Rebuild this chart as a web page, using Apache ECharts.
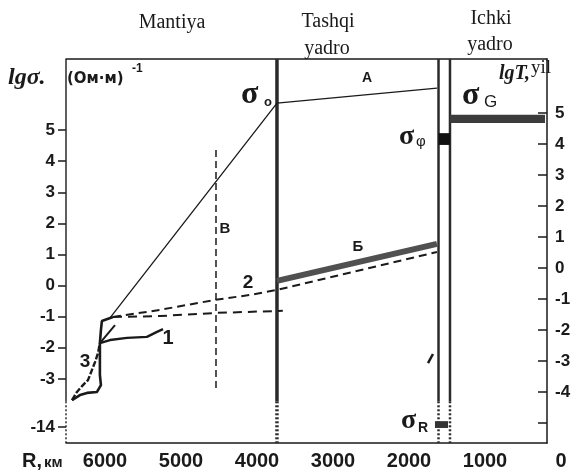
<!DOCTYPE html>
<html>
<head>
<meta charset="utf-8">
<script src="https://cdn.jsdelivr.net/npm/echarts@6.0.0/dist/echarts.min.js"></script>
<style>
  html, body { margin: 0; padding: 0; background: #fff; }
  #chart { width: 576px; height: 471px; }
</style>
</head>
<body>
<div id="chart"></div>
<script>
// bottom axis, radius in km
const radiusTicks = [0, 1000, 2000, 3000, 4000, 5000, 6000];
// left axis lg(sigma); the "-14" tick sits on the broken part of the axis
const sigmaTickPos = [-4.55, -3, -2, -1, 0, 1, 2, 3, 4, 5];
const sigmaTickText = ['-14', '-3', '-2', '-1', '0', '1', '2', '3', '4', '5'];
// right axis lg(T)
const timeTicks = [-5, -4, -3, -2, -1, 0, 1, 2, 3, 4, 5];
const timeLabels = [-4, -3, -2, -1, 0, 1, 2, 3, 4, 5];

// curves as [R km, lg sigma]
const lineSigma0A = [[5905, -1.04], [3649, 5.87], [1487, 6.35]];
const lineB = [[3649, 0.15], [1487, 1.34]];
const dashed2 = [[5865, -1.01], [5230, -0.78], [4487, -0.46], [4014, -0.30], [3649, -0.14], [1487, 1.08]];
const dashedLow = [[5865, -1.01], [5230, -0.98], [4487, -0.88], [3570, -0.81]];
const curve1 = [[6042, -1.85], [5905, -1.75], [5676, -1.68], [5406, -1.65], [5270, -1.49], [5189, -1.40]];
const branch1 = [[6042, -1.85], [5838, -1.27]];
const contour = [[5865, -1.01], [6015, -1.14], [6028, -1.43], [6042, -1.85], [6042, -2.39], [6042, -2.87],
  [6028, -3.20], [6001, -3.26], [6081, -3.42], [6216, -3.45], [6311, -3.52], [6419, -3.68]];
const curve3 = [[6419, -3.68], [6352, -3.42], [6271, -3.20], [6203, -3.04], [6149, -2.71], [6108, -2.46], [6068, -2.17], [6042, -1.85]];
const strayMark = [[1608, -2.49], [1541, -2.2]];

// vertical boundaries (R km) and where they turn dotted
const boundaryR = [6500, 3649, 1466, 1311];
const breakAt = -3.72;
const lineVB = [[4473, 4.36], [4473, -3.29]];

// boxes [R from, R to, lgT from, lgT to]
const boxSigmaG = [1311, 27, 4.68, 4.94];
const boxSigmaPhi = [1466, 1311, 3.97, 4.35];
const boxSigmaR = [1514, 1338, -4.94, -5.16];

const sigmaMin = -5.061, sigmaMax = 7.286;
const timeMin = -5.645, timeMax = 6.742;

const ink = '#1a1a1a';
const sans = 'Liberation Sans';
const serif = 'Liberation Serif';

const chart = echarts.init(document.getElementById('chart'));

function line(data, width, type, color, z) {
  return {
    type: 'line', data: data, xAxisIndex: 0, yAxisIndex: 0,
    symbol: 'none', clip: false, silent: true, z: z || 3,
    lineStyle: { color: color || ink, width: width, type: type || 'solid', cap: 'butt' }
  };
}

const series = [];
boundaryR.forEach(function (r, i) {
  const w = i === 0 ? 1.5 : (i === 1 ? 3.5 : 2.5);
  series.push(line([[r, sigmaMax], [r, breakAt]], w, 'solid', '#2a2a2a', 2));
  series.push(line([[r, breakAt], [r, sigmaMin]], w, [2, 2], '#2a2a2a', 2));
});
series.push(line(lineVB, 1.5, [7, 4]));
series.push(line(lineSigma0A, 1.3));
series.push(line(lineB, 6, 'solid', '#505050'));
series.push(line(dashed2, 2, [8, 5]));
series.push(line(dashedLow, 2, [9, 6]));
series.push(line(curve1, 2.4));
series.push(line(branch1, 2));
series.push(line(contour, 2.6));
series.push(line(curve3, 2.4, [6, 2]));
series.push(line(strayMark, 2.5));

function renderBox(params, api) {
  const p0 = api.coord([api.value(0), api.value(2)]);
  const p1 = api.coord([api.value(1), api.value(3)]);
  return {
    type: 'rect',
    shape: {
      x: Math.min(p0[0], p1[0]), y: Math.min(p0[1], p1[1]),
      width: Math.abs(p1[0] - p0[0]), height: Math.abs(p1[1] - p0[1])
    },
    style: { fill: api.visual('color') }
  };
}
series.push({
  type: 'custom', xAxisIndex: 0, yAxisIndex: 1, renderItem: renderBox, silent: true, z: 4,
  encode: { x: [0, 1], y: [2, 3] },
  data: [
    { value: boxSigmaG, itemStyle: { color: '#3c3c3c' } },
    { value: boxSigmaPhi, itemStyle: { color: '#111' } },
    { value: boxSigmaR, itemStyle: { color: '#333' } }
  ]
});

function txt(x, y, text, font, align) {
  return {
    type: 'text', silent: true, z: 10,
    style: { text: text, x: x, y: y, font: font, fill: ink,
      align: align || 'left', textAlign: align || 'left',
      verticalAlign: 'middle', textVerticalAlign: 'middle' }
  };
}

const graphic = [
  txt(172, 23, 'Mantiya', '20px ' + serif, 'center'),
  txt(328, 22, 'Tashqi', '20px ' + serif, 'center'),
  txt(327, 49, 'yadro', '20px ' + serif, 'center'),
  txt(491, 19, 'Ichki', '20px ' + serif, 'center'),
  txt(490, 45, 'yadro', '20px ' + serif, 'center'),
  txt(8, 78, 'lgσ.', 'italic bold 24px ' + serif),
  txt(67, 79, '(Ом·м)', 'bold 15px DejaVu Sans'),
  txt(132, 69, '-1', 'bold 12px ' + sans),
  txt(241, 95, 'σ', 'bold 32px ' + serif),
  txt(264, 102, 'o', 'bold 13px ' + sans),
  txt(367, 78, 'A', 'bold 14px ' + sans, 'center'),
  txt(462, 96, 'σ', 'bold 32px ' + serif),
  txt(484, 102, 'G', '17px ' + sans),
  txt(499, 74, 'lgT,', 'italic bold 20px ' + serif),
  txt(531, 68, 'yil', '19px ' + serif),
  txt(399, 137, 'σ', 'bold 28px ' + serif),
  txt(416, 142, 'φ', '15px ' + sans),
  txt(401, 421, 'σ', 'bold 28px ' + serif),
  txt(418, 428, 'R', 'bold 14px ' + sans),
  txt(358, 247, 'Б', 'bold 15px ' + sans, 'center'),
  txt(225, 229, 'B', 'bold 15px ' + sans, 'center'),
  txt(248, 283, '2', 'bold 19px ' + sans, 'center'),
  txt(168, 338, '1', 'bold 20px ' + sans, 'center'),
  txt(85, 362, '3', 'bold 19px ' + sans, 'center'),
  txt(22, 461, 'R,', 'bold 20px ' + sans),
  txt(44, 463, 'км', 'bold 15px ' + sans)
];

function sigmaLabel(v) {
  for (let i = 0; i < sigmaTickPos.length; i++) {
    if (Math.abs(sigmaTickPos[i] - v) < 1e-6) return sigmaTickText[i];
  }
  return '';
}

const option = {
  backgroundColor: '#fff',
  animation: false,
  grid: [
    { left: 66, right: 29, top: 59, bottom: 28 },
    { left: 105, right: 15, top: 59, bottom: 28 }
  ],
  xAxis: [
    {
      gridIndex: 0, type: 'value', min: 0, max: 6500, inverse: true, position: 'bottom',
      axisLine: { show: true, onZero: false, lineStyle: { color: ink, width: 1.5 } },
      axisTick: { show: false }, axisLabel: { show: false }, splitLine: { show: false }
    },
    {
      gridIndex: 0, type: 'value', min: 0, max: 6500, inverse: true, position: 'top',
      axisLine: { show: true, onZero: false, lineStyle: { color: ink, width: 1.5 } },
      axisTick: { show: false }, axisLabel: { show: false }, splitLine: { show: false }
    },
    {
      gridIndex: 1, type: 'value', min: 0, max: 6000, interval: 1000, inverse: true,
      axisLine: { show: false, onZero: false }, axisTick: { show: false }, splitLine: { show: false },
      axisLabel: {
        customValues: radiusTicks, margin: 10, formatter: function (v) { return String(v); },
        fontSize: 20, fontWeight: 'bold', fontFamily: sans, color: ink
      }
    }
  ],
  yAxis: [
    {
      gridIndex: 0, type: 'value', position: 'left', min: sigmaMin, max: sigmaMax,
      axisLine: { show: false, onZero: false },
      axisTick: { show: true, customValues: sigmaTickPos, length: 8, lineStyle: { color: ink, width: 1.5 } },
      axisLabel: {
        customValues: sigmaTickPos, formatter: sigmaLabel, margin: 11,
        fontSize: 17, fontWeight: 'bold', fontFamily: sans, color: ink
      },
      splitLine: { show: false }
    },
    {
      gridIndex: 0, type: 'value', position: 'right', min: timeMin, max: timeMax,
      axisLine: { show: true, onZero: false, lineStyle: { color: ink, width: 1.5 } },
      axisTick: { show: true, inside: true, customValues: timeTicks, length: 9, lineStyle: { color: ink, width: 1.5 } },
      axisLabel: {
        customValues: timeLabels, margin: 8, formatter: function (v) { return String(v); },
        fontSize: 17, fontWeight: 'bold', fontFamily: sans, color: ink
      },
      splitLine: { show: false }
    },
    { gridIndex: 1, type: 'value', min: 0, max: 1, show: false }
  ],
  graphic: graphic,
  series: series
};

chart.setOption(option);
</script>
</body>
</html>
